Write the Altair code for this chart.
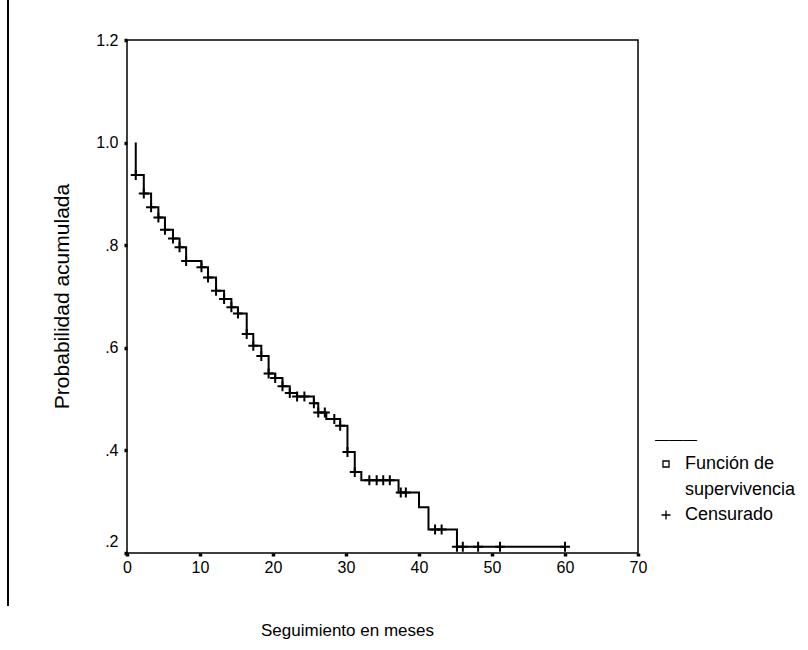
import altair as alt
import pandas as pd

# ---- data (Kaplan-Meier survival curve) ----
event_t = [1.2, 2.3, 3.3, 4.3, 5.2, 6.3, 7.2, 8.1, 10.2, 11.1, 12.2, 13.3, 14.3, 15.2,
           16.4, 17.3, 18.4, 19.4, 20.3, 21.3, 22.3, 23.3, 25.6, 26.2, 27.3, 29.2,
           30.2, 31.2, 32.1, 37.2, 40.0, 41.3, 45.2]
event_s = [0.937, 0.901, 0.874, 0.854, 0.830, 0.813, 0.796, 0.769, 0.757, 0.737, 0.711,
           0.695, 0.679, 0.667, 0.627, 0.604, 0.584, 0.550, 0.541, 0.525, 0.512, 0.505,
           0.492, 0.474, 0.461, 0.448, 0.397, 0.358, 0.342, 0.318, 0.289, 0.246, 0.212]
end_t = 60.0

censor_t = [1.2, 2.3, 3.3, 4.3, 5.2, 6.3, 7.2, 8.1, 10.2, 11.1, 12.2, 13.3, 14.3, 15.2,
            16.4, 17.3, 18.4, 19.4, 20.3, 21.3, 22.3, 23.3, 24.3, 25.6, 26.2, 27.1,
            28.4, 29.2, 30.2, 31.2, 33.2, 34.2, 35.1, 36.0, 37.5, 38.2, 42.2, 43.1,
            45.2, 46.0, 48.1, 51.1, 60.0]
censor_s = [0.937, 0.901, 0.874, 0.854, 0.830, 0.813, 0.796, 0.769, 0.757, 0.737, 0.711,
            0.695, 0.679, 0.667, 0.627, 0.604, 0.584, 0.550, 0.541, 0.525, 0.512, 0.505,
            0.505, 0.492, 0.474, 0.474, 0.461, 0.448, 0.397, 0.358, 0.342, 0.342, 0.342,
            0.342, 0.318, 0.318, 0.246, 0.246, 0.212, 0.212, 0.212, 0.212, 0.212]

legend_labels = ["Función de", "supervivencia", "Censurado"]
x_ticks = [0, 10, 20, 30, 40, 50, 60, 70]
y_ticks = [0.2, 0.4, 0.6, 0.8, 1.0, 1.2]
x_title = "Seguimiento en meses"
y_title = "Probabilidad acumulada"

# ---- tables ----
line_t = [event_t[0]] + event_t + [end_t]
line_s = [1.0] + event_s + [event_s[-1]]
line_df = pd.DataFrame({"t": line_t, "s": line_s, "o": list(range(len(line_t)))})
cens_df = pd.DataFrame({"t": censor_t, "s": censor_s, "serie": legend_labels[2]})

FONT = "Liberation Sans"

x_scale = alt.Scale(domain=[0, 70], nice=False, zero=False)
y_scale = alt.Scale(domain=[0.2, 1.2], nice=False, zero=False)

x_axis = alt.Axis(values=x_ticks, title=x_title, grid=False, domain=False,
                  tickColor="black", tickSize=3, tickWidth=3.5, labelFlush=False,
                  labelFont=FONT, labelFontSize=16, labelColor="black", labelPadding=3,
                  titleFont=FONT, titleFontSize=17, titleFontWeight="normal",
                  titleColor="black", titleX=220, titleY=82, titleAlign="center",
                  titleBaseline="alphabetic")
y_axis = alt.Axis(values=y_ticks, title=y_title, grid=False, domain=False,
                  tickColor="black", tickSize=3, tickWidth=3.5,
                  labelFont=FONT, labelFontSize=16, labelColor="black", labelPadding=6,
                  labelExpr="datum.value >= 1 ? format(datum.value, '.1f') : substring(format(datum.value, '.1f'), 1)",
                  labelBaseline={"condition": {"test": "datum.value < 0.3", "value": "bottom"}, "value": "middle"},
                  labelOffset={"condition": {"test": "datum.value < 0.3", "value": -4}, "value": 0},
                  titleFont=FONT, titleFontSize=21, titleFontWeight="normal",
                  titleColor="black", titleAngle=270, titleX=-65, titleY=256,
                  titleAlign="center", titleBaseline="middle")

line = alt.Chart(line_df).mark_line(interpolate="step-after", color="black",
                                    strokeWidth=2).encode(
    x=alt.X("t:Q", scale=x_scale, axis=x_axis),
    y=alt.Y("s:Q", scale=y_scale, axis=y_axis),
    order="o:Q",
)

shape_scale = alt.Scale(
    domain=legend_labels,
    range=["M-0.67,-0.67H0.67V0.67H-0.67Z", "M0,0", "M-1,0H1M0,-1V1"],
)

points = alt.Chart(cens_df).mark_point(filled=False, size=100, strokeWidth=2,
                                       color="black", opacity=1).encode(
    x=alt.X("t:Q", scale=x_scale),
    y=alt.Y("s:Q", scale=y_scale),
    shape=alt.Shape("serie:N", scale=shape_scale, legend=alt.Legend(
        title="———", titleFont=FONT, titleFontSize=14, titleFontWeight="normal",
        titleColor="black", titlePadding=8,
        orient="none", legendX=528, legendY=393,
        labelFont=FONT, labelFontSize=18, labelColor="black", labelOffset=10,
        symbolSize=81, symbolStrokeColor="black", symbolFillColor="transparent",
        symbolStrokeWidth=1.3, symbolOffset=2, rowPadding=7.5, padding=0,
        labelLimit=200,
    )),
)

page_line = alt.Chart(line_df).mark_rule(color="black", strokeWidth=1.5).encode(
    x=alt.value(-119), y=alt.value(-40), y2=alt.value(566)
)

chart = alt.layer(page_line, line, points).properties(
    width=511, height=513,
    autosize=alt.AutoSizeParams(type="none"),
    padding={"left": 127, "top": 40, "right": 170, "bottom": 97},
).configure(
    background="white",
    view=alt.ViewConfig(stroke="black", strokeWidth=1.5),
)

chart.save("out.html", embed_options={"renderer": "svg", "actions": False})
